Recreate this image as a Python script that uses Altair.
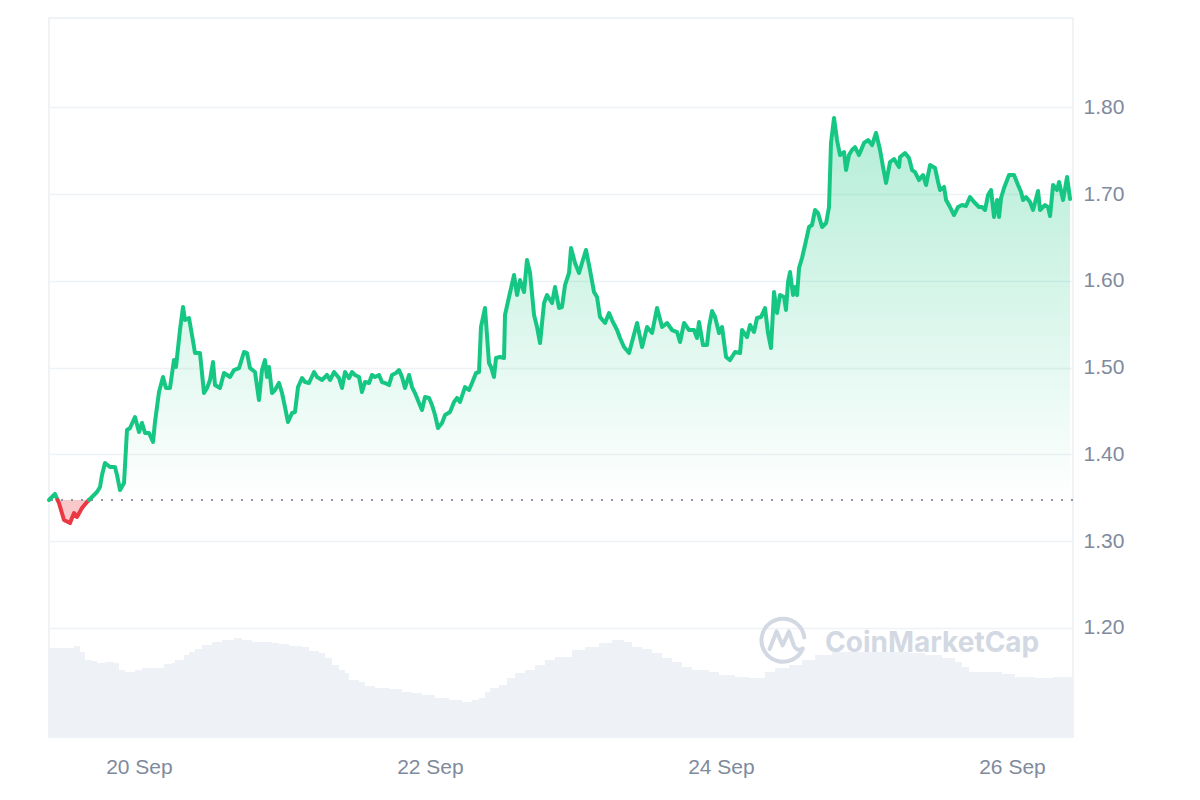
import altair as alt
import pandas as pd

# ---------------- data ----------------
START = pd.Timestamp("2023-09-19 09:00")   # hours below are offsets from this moment
BASE_PRICE = 1.3475                         # opening price (dotted reference line)

price_hours = [
    0.16, 1.15, 1.81, 2.64, 3.63, 4.29, 4.78, 5.61, 6.43, 7.59, 8.08, 8.58, 8.91, 9.40,
    10.23, 11.05, 11.38, 11.88, 12.54, 13.03, 13.53, 14.35, 15.01, 15.51, 16.00, 16.66,
    17.32, 17.65, 18.31, 18.97, 19.46, 20.12, 20.78, 21.11, 21.77, 22.27, 22.60, 23.26,
    23.75, 24.25, 25.07, 25.73, 26.23, 26.72, 27.22, 27.55, 28.37, 29.03, 30.02, 30.68,
    31.51, 32.33, 32.83, 33.32, 34.14, 34.80, 35.30, 35.79, 36.12, 36.45, 36.95, 37.44,
    38.10, 38.60, 39.09, 39.59, 40.25, 40.74, 41.24, 41.90, 42.39, 43.05, 43.88, 44.37,
    45.20, 46.02, 46.52, 47.18, 48.00, 48.50, 48.99, 49.65, 50.14, 50.64, 51.30, 51.79,
    52.29, 52.95, 53.44, 53.94, 54.60, 55.09, 55.59, 56.25, 56.74, 57.40, 57.90, 58.39,
    58.89, 59.55, 60.04, 60.54, 61.20, 61.69, 62.19, 62.85, 63.34, 63.84, 64.33, 64.99,
    65.49, 66.31, 66.97, 67.47, 67.96, 68.78, 69.44, 69.94, 70.60, 71.09, 71.42, 72.08,
    72.74, 73.07, 73.56, 73.90, 74.56, 75.22, 75.38, 76.04, 76.87, 77.36, 77.86, 78.52,
    79.01, 79.51, 80.17, 80.66, 81.16, 81.82, 82.31, 83.14, 83.63, 84.29, 84.78, 85.28,
    85.94, 86.27, 86.93, 87.59, 88.08, 88.74, 89.40, 90.06, 90.56, 91.05, 91.88, 92.54,
    93.03, 93.86, 94.35, 95.01, 95.84, 97.16, 97.99, 98.81, 99.64, 100.46, 101.29, 102.11,
    102.93, 103.76, 104.25, 104.91, 105.73, 106.56, 107.05, 107.38, 108.04, 108.70, 109.03,
    109.53, 110.02, 110.68, 111.18, 111.84, 112.50, 113.32, 114.15, 114.48, 115.30, 115.80,
    116.45, 116.95, 117.61, 118.27, 118.76, 119.26, 119.75, 120.25, 120.74, 121.40, 121.73,
    122.06, 122.39, 122.89, 123.22, 123.55, 123.88, 124.37, 124.87, 125.53, 126.02, 126.52,
    127.01, 127.68, 128.35, 128.82, 129.15, 129.65, 130.14, 130.64, 131.30, 131.63, 132.12,
    132.62, 133.11, 133.77, 134.60, 135.26, 135.92, 136.58, 137.24, 137.73, 138.23, 138.89,
    139.55, 140.37, 140.54, 141.36, 142.02, 142.52, 143.01, 143.67, 144.33, 144.83, 145.49,
    146.31, 146.81, 147.14, 147.80, 148.13, 148.78, 149.44, 150.10, 150.76, 151.42, 152.08,
    152.74, 153.57, 154.06, 154.56, 155.05, 155.55, 156.04, 156.54, 156.87, 157.20, 157.69,
    158.52, 159.34, 160.00, 160.50, 160.83, 161.32, 161.98, 162.48, 163.30, 163.63, 164.46,
    164.95, 165.28, 165.78, 166.44, 166.77, 167.43, 168.09, 168.58,
]

price_values = [
    1.3475, 1.3544, 1.3440, 1.3244, 1.3209, 1.3325, 1.3279, 1.3382, 1.3452, 1.3532, 1.3567, 1.3624, 1.3763, 1.3901,
    1.3855, 1.3855, 1.3763, 1.3590, 1.3670, 1.4281, 1.4304, 1.4431, 1.4258, 1.4362, 1.4246, 1.4246,
    1.4143, 1.4373, 1.4719, 1.4892, 1.4765, 1.4765, 1.5087, 1.5007, 1.5433, 1.5698, 1.5548, 1.5571,
    1.5376, 1.5168, 1.5168, 1.4707, 1.4765, 1.4857, 1.5064, 1.4799, 1.4765, 1.4938, 1.4892, 1.4972,
    1.4995, 1.5180, 1.5168, 1.4995, 1.4949, 1.4627, 1.4972, 1.5087, 1.4892, 1.5007, 1.4707, 1.4742,
    1.4823, 1.4707, 1.4546, 1.4373, 1.4477, 1.4488, 1.4776, 1.4880, 1.4834, 1.4823, 1.4949, 1.4892,
    1.4857, 1.4915, 1.4857, 1.4949, 1.4880, 1.4765, 1.4949, 1.4880, 1.4949, 1.4915, 1.4892, 1.4719,
    1.4834, 1.4823, 1.4915, 1.4892, 1.4915, 1.4834, 1.4823, 1.4799, 1.4915, 1.4938, 1.4972, 1.4892,
    1.4765, 1.4915, 1.4776, 1.4707, 1.4592, 1.4511, 1.4661, 1.4650, 1.4569, 1.4454, 1.4304, 1.4362,
    1.4454, 1.4488, 1.4604, 1.4650, 1.4604, 1.4776, 1.4742, 1.4823, 1.4938, 1.4949, 1.5468, 1.5687,
    1.5053, 1.5007, 1.4892, 1.5111, 1.5122, 1.5111, 1.5606, 1.5813, 1.6067, 1.5836, 1.6009, 1.5871,
    1.6240, 1.6090, 1.5606, 1.5468, 1.5283, 1.5744, 1.5836, 1.5744, 1.5928, 1.5687, 1.5698, 1.5951,
    1.6090, 1.6378, 1.6205, 1.6090, 1.6205, 1.6355, 1.6124, 1.5871, 1.5813, 1.5583, 1.5514, 1.5629,
    1.5548, 1.5433, 1.5341, 1.5237, 1.5168, 1.5514, 1.5237, 1.5468, 1.5399, 1.5687, 1.5468, 1.5514,
    1.5433, 1.5410, 1.5295, 1.5514, 1.5433, 1.5433, 1.5341, 1.5525, 1.5260, 1.5260, 1.5468,
    1.5652, 1.5583, 1.5399, 1.5468, 1.5122, 1.5087, 1.5180, 1.5168, 1.5433, 1.5352, 1.5491,
    1.5410, 1.5571, 1.5583, 1.5687, 1.5399, 1.5226, 1.5871, 1.5629, 1.5836, 1.5813, 1.5664,
    1.5986, 1.6101, 1.5836, 1.5928, 1.5836, 1.6147, 1.6263, 1.6412, 1.6620, 1.6643, 1.6816,
    1.6781, 1.6620, 1.6666, 1.6850, 1.7588, 1.7876, 1.7622, 1.7449, 1.7484, 1.7276, 1.7449,
    1.7507, 1.7541, 1.7449, 1.7588, 1.7622, 1.7564, 1.7703, 1.7507, 1.7311, 1.7127, 1.7369,
    1.7403, 1.7311, 1.7426, 1.7472, 1.7415, 1.7276, 1.7253, 1.7161, 1.7219, 1.7104, 1.7334,
    1.7300, 1.7138, 1.7046, 1.7081, 1.6931, 1.6850, 1.6758, 1.6850, 1.6873, 1.6862, 1.6965,
    1.6908, 1.6850, 1.6850, 1.6816, 1.6988, 1.7046, 1.6735, 1.6931, 1.6735, 1.6954, 1.7069,
    1.7219, 1.7219, 1.7104, 1.7023, 1.6931, 1.6965, 1.6908, 1.6816, 1.7035, 1.6816, 1.6873,
    1.6850, 1.6747, 1.7104, 1.7046, 1.7138, 1.6931, 1.7196, 1.6942,
]

volume_hours = [
    0.16, 3.96, 4.29, 5.28, 6.10, 7.26, 8.08, 9.40, 10.89, 11.71, 12.70, 14.35, 15.51, 17.98,
    19.13, 20.45, 20.95, 22.43, 23.26, 24.25, 25.40, 27.05, 28.70, 30.68, 32.00, 33.65, 36.95,
    38.10, 39.75, 41.90, 43.05, 44.70, 45.69, 46.85, 48.00, 48.99, 49.65, 51.30, 52.29, 53.94,
    56.25, 58.39, 60.04, 61.69, 63.84, 66.15, 68.29, 69.94, 71.09, 72.08, 72.91, 74.39, 75.71,
    77.03, 78.68, 80.33, 81.98, 83.63, 86.43, 88.58, 90.89, 93.03, 95.01, 96.33, 97.99, 99.64,
    101.29, 102.93, 104.58, 106.23, 109.03, 110.68, 113.32, 115.63, 117.77, 118.27, 119.92,
    122.23, 124.37, 126.52, 129.32, 133.77, 136.41, 139.22, 142.02, 144.66, 147.47, 149.61,
    150.76, 151.92, 154.56, 157.36, 159.51, 162.81, 165.94, 169.07,
]

volume_values = [  # millions
    44.5, 44.5, 45.5, 42.5, 38.5, 38.0, 37.0, 37.5, 37.0, 33.5, 32.5, 33.5, 34.5, 34.5,
    36.5, 37.0, 38.5, 41.0, 42.5, 44.0, 46.0, 47.5, 48.5, 49.5, 48.5, 47.5, 47.0,
    46.5, 45.5, 45.0, 43.0, 42.0, 39.5, 36.0, 33.5, 32.0, 28.5, 27.5, 25.5, 24.5,
    24.0, 22.5, 22.0, 21.0, 19.5, 18.5, 17.5, 18.5, 19.5, 22.5, 24.5, 26.0, 29.5,
    32.0, 33.5, 36.0, 38.5, 40.0, 43.5, 45.0, 47.0, 48.5, 47.5, 45.0, 44.0, 42.0,
    39.5, 37.5, 35.0, 33.5, 32.5, 31.0, 30.0, 29.5, 29.5, 32.5, 34.5,
    36.0, 38.5, 41.0, 42.5, 42.5, 42.5, 42.5, 42.0, 41.0, 39.5, 37.5,
    35.0, 32.5, 32.5, 31.5, 30.0, 29.5, 30.0, 30.0,
]

X_TICK_DAYS = [20, 22, 24, 26]
Y_TICKS = [1.20, 1.30, 1.40, 1.50, 1.60, 1.70, 1.80]
Y_DOMAIN = [1.0744, 1.9028]
VOLUME_DOMAIN = [0, 359.5]

GREEN = "#16c784"
RED = "#ea3943"
LABEL = "#808a9d"
GRID = "#eff2f5"

# ---------------- derived tables ----------------
def to_time(hours):
    return [START + pd.Timedelta(hours=h) for h in hours]

pts = list(zip(price_hours, price_values))
aug = [pts[0]]
for (h0, p0), (h1, p1) in zip(pts[:-1], pts[1:]):
    if (p0 - BASE_PRICE) * (p1 - BASE_PRICE) < 0:
        hc = h0 + (BASE_PRICE - p0) / (p1 - p0) * (h1 - h0)
        aug.append((hc, BASE_PRICE))
    aug.append((h1, p1))

area_df = pd.DataFrame({"t": to_time([a[0] for a in aug]), "price": [a[1] for a in aug]})
area_df["hi"] = area_df["price"].clip(lower=BASE_PRICE)
area_df["lo"] = area_df["price"].clip(upper=BASE_PRICE)
area_df["base"] = BASE_PRICE

seg_rows = []
seg = 0
cur_side = None
pending = None
for h, p in aug:
    side = "up" if p > BASE_PRICE else ("down" if p < BASE_PRICE else None)
    if side is None:
        if cur_side is not None:
            seg_rows.append((h, p, seg, cur_side))
        pending = (h, p)
        continue
    if side != cur_side:
        seg += 1
        cur_side = side
        if pending is not None:
            seg_rows.append((pending[0], pending[1], seg, side))
    pending = None
    seg_rows.append((h, p, seg, side))

line_df = pd.DataFrame({
    "t": to_time([r[0] for r in seg_rows]),
    "price": [r[1] for r in seg_rows],
    "seg": [r[2] for r in seg_rows],
    "side": [r[3] for r in seg_rows],
})

vol_df = pd.DataFrame({"t": to_time(volume_hours), "volume": volume_values})

# ---------------- scales / axes ----------------
x_scale = alt.Scale(
    domain=[alt.DateTime(year=2023, month=9, date=19, hours=9, minutes=10),
            alt.DateTime(year=2023, month=9, date=26, hours=10, minutes=4)],
    nice=False,
)
x_axis = alt.Axis(
    values=[alt.DateTime(year=2023, month=9, date=d) for d in X_TICK_DAYS],
    format="%-d %b", formatType="time", title=None, grid=False, ticks=False,
    domain=False, labelPadding=19,
)
y_scale = alt.Scale(domain=Y_DOMAIN, nice=False, zero=False)
y_axis = alt.Axis(
    orient="right", values=Y_TICKS, format=".2f", title=None, ticks=False,
    domain=False, grid=True, gridColor=GRID, gridWidth=1.5, labelPadding=10,
)

X = alt.X("t:T", scale=x_scale, axis=x_axis)

volume = alt.Chart(vol_df).mark_area(
    interpolate="step-after", color="#eef1f5"
).encode(
    x=X,
    y=alt.Y("volume:Q", scale=alt.Scale(domain=VOLUME_DOMAIN, nice=False), axis=None),
)

wm_text = alt.Chart(pd.DataFrame({"label": ["CoinMarketCap"]})).mark_text(
    font="Inter", fontWeight="bold", fontSize=28, color="#d3d9e3",
    align="left", baseline="alphabetic",
).encode(text="label:N", x=alt.value(776), y=alt.value(634))

LOGO_PATH = ("M 0.92 0.40 A 1 1 0 1 1 0.99 -0.12 "
             "M -0.62 0.42 L -0.30 -0.40 L -0.02 0.25 L 0.28 -0.40 L 0.50 0.25 "
             "Q 0.62 0.55 0.92 0.40")
wm_logo = alt.Chart(pd.DataFrame({"k": [1]})).mark_point(
    shape=LOGO_PATH, filled=False, stroke="#d3d9e3", strokeWidth=4,
    size=1850, strokeCap="round", strokeJoin="round", opacity=1,
).encode(x=alt.value(734), y=alt.value(622))

green_area = alt.Chart(area_df).mark_area(
    color=alt.Gradient(
        gradient="linear",
        stops=[alt.GradientStop(color="rgba(22,199,132,0.32)", offset=0),
               alt.GradientStop(color="rgba(22,199,132,0.0)", offset=1)],
        x1=1, x2=1, y1=0, y2=1,
    )
).encode(x=X, y=alt.Y("hi:Q", scale=y_scale, axis=y_axis), y2="base:Q")

red_area = alt.Chart(area_df).mark_area(
    color="rgba(234,57,67,0.28)"
).encode(x=X, y=alt.Y("lo:Q", scale=y_scale), y2="base:Q")

baseline = alt.Chart(pd.DataFrame({"b": [BASE_PRICE]})).mark_rule(
    color="#8f96a6", strokeWidth=2, strokeDash=[2, 8]
).encode(y=alt.Y("b:Q", scale=y_scale))

lines = alt.Chart(line_df).mark_line(
    strokeWidth=4, strokeJoin="round", strokeCap="round"
).encode(
    x=X,
    y=alt.Y("price:Q", scale=y_scale),
    detail="seg:N",
    color=alt.Color("side:N", scale=alt.Scale(domain=["up", "down"], range=[GREEN, RED]), legend=None),
    order="t:T",
)

price_layer = alt.layer(green_area, red_area, baseline, lines)

chart = alt.layer(volume, wm_text, wm_logo, price_layer).resolve_scale(
    y="independent"
).properties(
    width=1024, height=719,
    padding={"left": 38, "top": 10, "right": 5, "bottom": 5},
).configure_view(
    stroke="#eceff3", strokeWidth=1.5
).configure_axis(
    labelFont="Liberation Sans", labelFontSize=21, labelColor=LABEL,
)

chart.save("out.html", embed_options={"renderer": "svg", "actions": False})
